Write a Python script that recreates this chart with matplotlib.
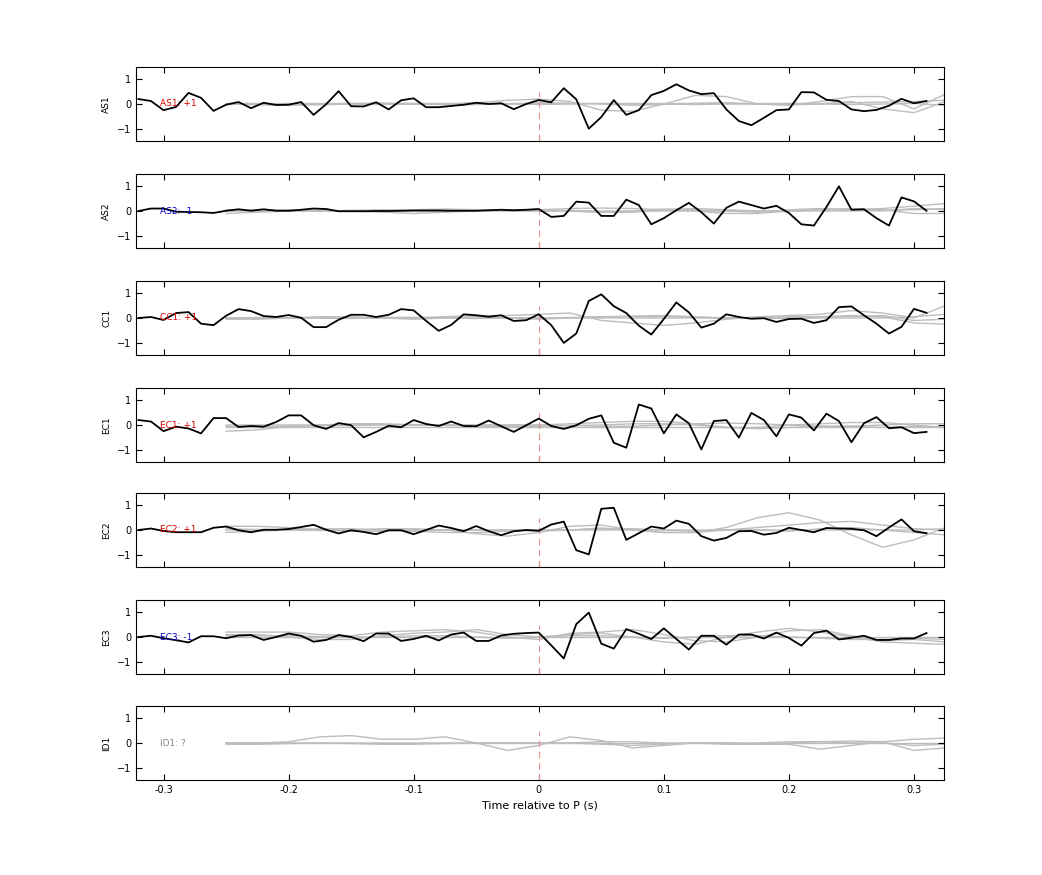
import numpy as np
import matplotlib.pyplot as plt

t_black = np.round(np.arange(-0.32, 0.315, 0.01), 2)
t_gray = np.round(np.arange(-0.25, 0.33, 0.025), 3)

stations = ["AS1", "AS2", "CC1", "EC1", "EC2", "EC3", "ID1"]
polarity = ["+1", "-1", "+1", "+1", "+1", "-1", "?"]
pol_colors = ["#dd0000", "#0000cc", "#dd0000", "#dd0000", "#dd0000", "#0000cc", "#888888"]

AS1 = [0.2,0.12,-0.25,-0.12,0.45,0.25,-0.28,-0.03,0.08,-0.17,0.05,-0.04,-0.03,0.08,-0.44,-0.01,
       0.52,-0.09,-0.1,0.07,-0.22,0.15,0.23,-0.13,-0.13,-0.08,-0.03,0.05,0.0,0.03,-0.21,0.0,
       0.16,0.07,0.64,0.19,-1.0,-0.53,0.16,-0.44,-0.25,0.36,0.53,0.8,0.55,0.4,0.44,-0.22,
       -0.69,-0.86,-0.56,-0.25,-0.22,0.48,0.47,0.17,0.12,-0.22,-0.29,-0.24,-0.07,0.21,0.03,0.12]
AS2 = [0.0,0.1,0.1,-0.03,-0.04,-0.05,-0.08,0.01,0.07,0.01,0.07,0.01,0.01,0.05,0.1,0.08,
       -0.01,-0.01,-0.01,0.0,0.0,0.01,0.02,0.02,0.02,0.01,0.01,0.01,0.03,0.05,0.03,0.05,
       0.08,-0.24,-0.2,0.38,0.34,-0.2,-0.2,0.46,0.24,-0.54,-0.29,0.03,0.33,-0.05,-0.51,0.13,
       0.38,0.24,0.1,0.21,-0.08,-0.54,-0.59,0.16,1.0,0.05,0.07,-0.29,-0.59,0.55,0.39,0.01]
CC1 = [0.0,0.04,-0.08,0.2,0.24,-0.23,-0.29,0.09,0.36,0.28,0.08,0.04,0.12,0.01,-0.37,-0.37,
       -0.07,0.13,0.13,0.04,0.13,0.36,0.31,-0.12,-0.52,-0.28,0.15,0.11,0.05,0.11,-0.12,-0.09,
       0.15,-0.29,-1.01,-0.63,0.69,0.96,0.48,0.2,-0.31,-0.67,-0.04,0.63,0.23,-0.39,-0.23,0.15,
       0.04,-0.03,-0.01,-0.16,-0.04,-0.03,-0.2,-0.09,0.44,0.47,0.11,-0.23,-0.63,-0.36,0.37,0.21]
EC1 = [0.2,0.14,-0.25,-0.07,-0.14,-0.34,0.28,0.28,-0.08,-0.04,-0.07,0.12,0.39,0.39,-0.01,-0.16,
       0.08,-0.01,-0.5,-0.28,-0.03,-0.09,0.2,0.04,-0.04,0.14,-0.04,-0.05,0.18,-0.05,-0.28,-0.01,
       0.26,-0.04,-0.16,-0.01,0.25,0.39,-0.72,-0.92,0.83,0.67,-0.34,0.43,0.07,-0.99,0.16,0.2,
       -0.51,0.49,0.2,-0.46,0.43,0.3,-0.22,0.46,0.16,-0.7,0.07,0.32,-0.13,-0.09,-0.33,-0.28]
EC2 = [0.0,0.06,-0.04,-0.09,-0.09,-0.09,0.09,0.14,-0.01,-0.09,0.01,0.01,0.04,0.12,0.21,0.01,
       -0.14,-0.01,-0.08,-0.17,-0.01,-0.01,-0.17,0.0,0.18,0.08,-0.05,0.16,-0.05,-0.21,-0.05,0.0,
       -0.03,0.22,0.34,-0.82,-0.99,0.86,0.9,-0.4,-0.13,0.14,0.06,0.38,0.25,-0.25,-0.43,-0.32,
       -0.05,-0.04,-0.19,-0.12,0.09,0.0,-0.09,0.08,0.06,0.05,-0.01,-0.25,0.1,0.43,-0.05,-0.13]
EC3 = [0.0,0.05,-0.05,-0.13,-0.22,0.03,0.03,-0.05,0.06,0.08,-0.12,0.0,0.14,0.05,-0.19,-0.12,
       0.08,0.0,-0.17,0.14,0.14,-0.16,-0.08,0.05,-0.14,0.1,0.18,-0.16,-0.16,0.06,0.13,0.16,
       0.18,-0.34,-0.87,0.52,0.99,-0.27,-0.47,0.32,0.13,-0.08,0.35,-0.08,-0.51,0.05,0.05,-0.31,
       0.1,0.1,-0.06,0.18,-0.04,-0.35,0.16,0.26,-0.1,-0.03,0.05,-0.12,-0.12,-0.06,-0.06,0.16]
black = [AS1, AS2, CC1, EC1, EC2, EC3, None]

# gray synthetic traces, sampled every 0.025 s from -0.25 s
G_AS1 = [[0,0,0,0,0.02,0.03,0.02,0,0.05,0.15,0.2,0.1,-0.25,-0.3,0,0.35,0.3,0,-0.05,0.1,0.3,0.3,-0.2,0.4],
         [0,-0.03,-0.05,-0.03,0,0.02,0,-0.03,-0.02,0,0.05,0.03,0,-0.05,-0.02,0.03,0.05,0,-0.03,0,0.1,-0.2,-0.35,0.1],
         [0.02,0.02,0.02,0.02,0.02,0.02,0.02,0.02,0.02,0.02,0.02,0.02,0.02,0.02,0.02,0.02,0.02,0.02,0.02,0.02,0.05,0.08,0.1,0.15],
         [0,0,-0.02,0,0,-0.01,0,0.01,0,0,-0.02,0,0.02,0,0,-0.02,0,0,0.02,0,-0.02,0,0.02,-0.05]]
G_AS2 = [[-0.1,-0.05,0,0.03,0,-0.05,-0.1,-0.05,0,0.05,0.05,0.1,0.12,0.1,0.05,0,-0.1,-0.1,0,0.05,0.05,0.1,0.2,0.3],
         [0,0.05,0.05,0,0,0,0.05,0.08,0.05,0,0,0,-0.05,-0.05,0.05,0.1,0.05,0,0,0.05,0.1,0.05,-0.1,-0.1],
         [0,0,0,0,0,0,0,0,0,0,0,0.02,0,0,0,0,0,0,0,0,0,0.03,0.05,0.1],
         [0.05,0.03,0,0,0.03,0.05,0.03,0,0.02,0.05,0.05,0,-0.05,0,0.08,0.05,0,-0.05,0.05,0.1,0.05,0,0.1,0.05]]
G_CC1 = [[0,0,0,0,0,0,0,0.05,0.1,0.1,0.15,0.2,-0.1,-0.2,-0.3,-0.2,-0.05,0.05,0.1,0.15,0.3,0.2,0,0.5],
         [-0.05,-0.05,0,0.05,0.05,0,-0.05,0,0.05,0,-0.05,0,0.05,0.08,0.1,0.05,0,0,0.05,0.05,0.1,0.05,-0.2,-0.25],
         [0,0.02,0.02,0,0,0.02,0.03,0.02,0,0,0,0.02,0.05,0.05,0.05,0.03,0,0,0,0.05,0.05,0.1,-0.1,-0.05],
         [-0.02,0,0,0,-0.02,0,0,0,-0.02,0,0,0,0,0,0,0,0,0,-0.02,0,0,0,0.05,0.15]]
G_EC1 = [[-0.25,-0.2,-0.05,0,0.05,0.05,0,0,0,0,0,0.05,0.1,0.15,0.15,0.05,-0.1,-0.1,0,0.05,0.1,0.1,0,-0.1],
         [0,0,0,0,0,0.02,0.02,0,0,0,0,-0.02,-0.05,-0.05,0,0.05,0.08,0.05,0,-0.05,-0.05,0,0.05,0.05],
         [-0.05,-0.05,-0.05,-0.03,-0.02,0,0,-0.02,-0.05,-0.05,-0.05,-0.02,0,0.05,0.05,0,-0.1,-0.15,-0.1,-0.05,-0.05,-0.1,-0.05,-0.1],
         [-0.1,-0.1,-0.1,-0.1,-0.1,-0.1,-0.1,-0.1,-0.1,-0.1,-0.1,-0.1,-0.1,-0.1,-0.1,-0.1,-0.1,-0.1,-0.1,-0.1,-0.1,-0.1,-0.1,-0.1]]
G_EC2 = [[0.15,0.15,0.1,0,-0.05,-0.05,0,0,-0.15,-0.25,-0.1,0.15,0.2,0,-0.1,-0.1,0.1,0.5,0.7,0.4,-0.2,-0.7,-0.4,0.1],
         [-0.1,-0.05,0,0.05,0.05,0,-0.05,-0.1,-0.1,-0.05,0,0,0.05,0.05,0,-0.05,0,0.1,0.2,0.3,0.35,0.2,0.05,0],
         [0,0,0,0,0,0,0,0,0,0,0,0,0,0,0,0,0,0,0,0,0,0,0,0.05],
         [0.05,0.02,0,-0.02,0,0.05,0.05,0,0,0,-0.05,0,0.08,0,-0.1,-0.1,0,0,-0.05,0.05,0.1,0,-0.1,-0.2]]
G_EC3 = [[0.2,0.2,0.2,0.1,0.05,0.2,0.25,0.3,0.2,0,-0.1,0.15,0.2,0.3,0.1,-0.15,-0.2,0,0.25,0.3,0.05,-0.15,-0.1,-0.2],
         [0.1,0.1,0,-0.1,-0.1,0.05,0.15,0.2,0.3,0.1,0,0.1,0.15,0,-0.2,-0.3,0,0.2,0.35,0.2,0,-0.2,-0.25,-0.3],
         [0,0,0,0,0,0,0,0,0,0,0,0,0,0,0,0,0,0,0,0,0,0,0,0],
         [0.05,0.05,0.05,0.02,0,0,0.05,0.05,0,-0.05,0,0.05,0.05,0,-0.05,0,0.05,0.05,0,-0.05,-0.1,-0.1,-0.05,-0.1]]
G_ID1 = [[0,0,0.05,0.25,0.3,0.15,0.15,0.25,0,-0.3,-0.1,0.25,0.1,-0.2,-0.1,0,0,-0.05,-0.05,-0.25,-0.1,0.05,-0.3,-0.2],
         [0,0,0,0,0,0,0,0,0,0,0,0,0.05,0.05,0,0,-0.05,-0.05,0,0.05,0.08,0.05,0.15,0.2],
         [-0.05,-0.05,-0.02,0,-0.02,-0.05,-0.05,-0.02,0,0,0,0,-0.05,-0.1,-0.05,0,0,0,0.05,0.05,0,0,-0.1,-0.05],
         [0.02,0.02,0.02,0.02,0.02,0.02,0.02,0.02,0.02,0.02,0.02,0.02,0.02,0.02,0.02,0.02,0.02,0.02,0.02,0.02,0.02,0.02,0.02,0.02]]
grays = [G_AS1, G_AS2, G_CC1, G_EC1, G_EC2, G_EC3, G_ID1]

xticks = [-0.3, -0.2, -0.1, 0, 0.1, 0.2, 0.3]
xticklabels = ["-0.3", "-0.2", "-0.1", "0", "0.1", "0.2", "0.3"]
yticks = [-1, 0, 1]

fig = plt.figure(figsize=(10.42, 8.75), dpi=100)
tops = [67, 174, 281, 388, 493, 600, 706]
H = 875.0
for i, st in enumerate(stations):
    top = tops[i]
    ax = fig.add_axes([136/1042, 1 - (top + 74)/H, 808/1042, 74/H])
    for g in grays[i]:
        ax.plot(t_gray, g, color="#bdbdbd", lw=1.0, zorder=1)
    ax.plot([0, 0], [-1.5, 0.5], color="#e89090", lw=0.8, ls=(0, (6, 4)), zorder=2)
    if black[i] is not None:
        ax.plot(t_black, black[i], color="black", lw=1.3, zorder=3)
    ax.text(-0.303, 0, f"{st}: {polarity[i]}", color=pol_colors[i], fontsize=6.5,
            va="center", ha="left", zorder=4)
    ax.set_xlim(-0.322, 0.324)
    ax.set_ylim(-1.5, 1.5)
    ax.set_yticks(yticks)
    ax.set_xticks(xticks)
    ax.tick_params(direction="in", top=True, right=True, labelsize=7, length=4, width=0.8)
    if i == len(stations) - 1:
        ax.set_xticklabels(xticklabels)
        ax.set_xlabel("Time relative to P (s)", fontsize=8)
    else:
        ax.set_xticklabels([])
    ax.set_ylabel(st, fontsize=6.5)
    for s in ax.spines.values():
        s.set_linewidth(0.8)

fig.savefig("out.png", dpi=100)
